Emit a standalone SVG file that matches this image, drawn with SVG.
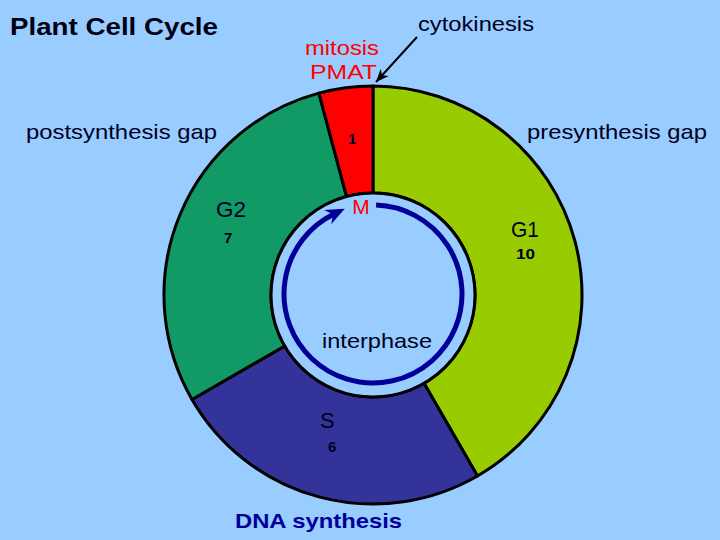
<svg xmlns="http://www.w3.org/2000/svg" width="720" height="540" viewBox="0 0 720 540">
<defs>
<style>
text{font-family:"Liberation Sans",Arial,sans-serif;}
.lbl{font-size:21px;fill:#000022;}
.seglbl{font-size:22px;fill:#000022;}
.num{font-size:15px;font-weight:bold;fill:#000022;}
.red{font-size:21px;fill:#FF0000;}
.seg{stroke:#000;stroke-width:3;stroke-linejoin:round;}
</style>
<marker id="navyHead" viewBox="-20 -10 22 20" markerWidth="22" markerHeight="20" refX="-12" refY="0" orient="auto" markerUnits="userSpaceOnUse">
<path d="M0,0 L-19,-8 L-13,0 L-19,8 Z" fill="#000099"/>
</marker>
<marker id="blackHead" viewBox="-16 -8 18 16" markerWidth="18" markerHeight="16" refX="0" refY="0" orient="auto" markerUnits="userSpaceOnUse">
<path d="M0,0 L-13,-5.5 L-9,0 L-13,5.5 Z" fill="#000"/>
</marker>
</defs>
<rect width="720" height="540" fill="#99CCFF"/>
<text x="10" y="35" font-size="24" font-weight="bold" fill="#000011" textLength="208" lengthAdjust="spacingAndGlyphs">Plant Cell Cycle</text>
<g id="G1">
<path class="seg" fill="#99CC00" d="M373,86 A209,209 0 0 1 477.5,476 L424,383.3 A102,102 0 0 0 373,193 Z"/>
<text class="seglbl" x="511" y="237" textLength="28" lengthAdjust="spacingAndGlyphs">G1</text>
<text class="num" x="516" y="259" textLength="19" lengthAdjust="spacingAndGlyphs">10</text>
</g>
<g id="S">
<path class="seg" fill="#333399" d="M477.5,476 A209,209 0 0 1 192,399.5 L284.7,346 A102,102 0 0 0 424,383.3 Z"/>
<text class="seglbl" x="320" y="428" font-size="24">S</text>
<text class="num" x="328" y="452">6</text>
</g>
<g id="G2">
<path class="seg" fill="#119966" d="M192,399.5 A209,209 0 0 1 318.9,93.1 L346.6,196.5 A102,102 0 0 0 284.7,346 Z"/>
<text class="seglbl" x="216" y="217" textLength="30" lengthAdjust="spacingAndGlyphs">G2</text>
<text class="num" x="224" y="243">7</text>
</g>
<g id="M">
<path class="seg" fill="#FF0000" d="M318.9,93.1 A209,209 0 0 1 373,86 L373,193 A102,102 0 0 0 346.6,196.5 Z"/>
<text class="num" x="348" y="144">1</text>
</g>
<g id="interphase">
<circle cx="373" cy="295" r="102" fill="#99CCFF" stroke="#000" stroke-width="3"/>
<text class="lbl" x="322" y="348" textLength="110" lengthAdjust="spacingAndGlyphs">interphase</text>
<text class="red" x="361" y="214" font-size="23" text-anchor="middle">M</text>
</g>
<g id="labels">
<text class="lbl" x="418" y="31" textLength="116" lengthAdjust="spacingAndGlyphs">cytokinesis</text>
<text class="red" x="305" y="55" textLength="74" lengthAdjust="spacingAndGlyphs">mitosis</text>
<text class="red" x="310" y="79" textLength="67" lengthAdjust="spacingAndGlyphs">PMAT</text>
<text class="lbl" x="26" y="139" textLength="191" lengthAdjust="spacingAndGlyphs">postsynthesis gap</text>
<text class="lbl" x="527" y="139" textLength="180" lengthAdjust="spacingAndGlyphs">presynthesis gap</text>
<text x="235" y="528" font-size="21" font-weight="bold" fill="#000099" textLength="167" lengthAdjust="spacingAndGlyphs">DNA synthesis</text>
</g>
<g id="connectors">
<path d="M376.1,205.05 A89,89 0 1 1 334,214" fill="none" stroke="#000099" stroke-width="5" marker-end="url(#navyHead)"/>
<line x1="417" y1="37" x2="376" y2="82" stroke="#000" stroke-width="2" marker-end="url(#blackHead)"/>
</g>
</svg>
